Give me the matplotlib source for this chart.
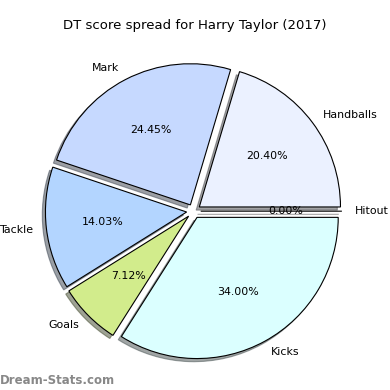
import matplotlib
matplotlib.use("Agg")
import matplotlib.pyplot as plt

# data
categories = ["Hitout", "Handballs", "Mark", "Tackle", "Goals", "Kicks"]
shares = [0.00, 20.40, 24.45, 14.03, 7.12, 34.00]
colours = ["#ffffff", "#ebf1ff", "#c6d9ff", "#b3d5ff", "#d2ec8c", "#dbffff"]
title = "DT score spread for Harry Taylor (2017)"

fig = plt.figure(figsize=(3.9, 3.9), dpi=100)
ax = fig.add_axes([0.044, 0.006, 0.905, 0.905])

wedges, texts, pcts = ax.pie(
    shares,
    labels=categories,
    colors=colours,
    explode=[0.05] * len(shares),
    autopct="%1.2f%%",
    startangle=0,
    labeldistance=1.09,
    shadow=dict(ox=-0.016, oy=-0.016),
    wedgeprops=dict(edgecolor="black", linewidth=0.8),
    textprops=dict(fontsize=7.9),
)
ax.set_aspect("equal")

fig.text(0.5, 0.935, title, ha="center", va="center", fontsize=9.5)
fig.text(0.0, 0.025, "Dream-Stats.com", ha="left", va="center",
         fontsize=8.5, color="#888888", fontweight="bold")

fig.savefig("out.png", dpi=100)
plt.close(fig)
